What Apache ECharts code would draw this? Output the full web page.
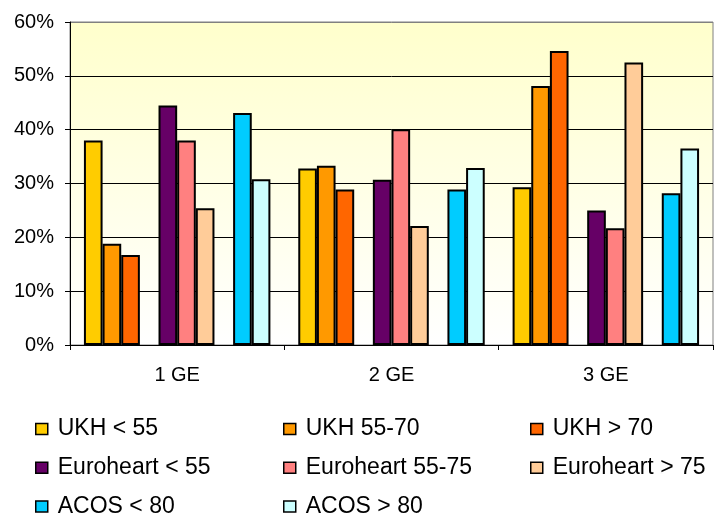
<!DOCTYPE html>
<html>
<head>
<meta charset="utf-8">
<script src="https://cdn.jsdelivr.net/npm/echarts@6/dist/echarts.min.js"></script>
<style>
  html, body { margin: 0; padding: 0; background: #fff; }
  #chart { width: 715px; height: 520px; }
</style>
</head>
<body>
<div id="chart"></div>
<script>
// Categories (number of GE) and share of patients per group, in percent
const categories = ['1 GE', '2 GE', '3 GE'];

const ukhUnder55   = [38.0, 32.8, 29.3];
const ukh55to70    = [18.8, 33.3, 48.1];
const ukhOver70    = [16.7, 28.9, 54.6];
const euroUnder55  = [44.5, 30.7, 25.0];
const euro55to75   = [38.0, 40.1, 21.7];
const euroOver75   = [25.4, 22.1, 52.5];
const acosUnder80  = [43.1, 28.9, 28.2];
const acosOver80   = [30.8, 32.9, 36.5];

const yTicks = [0, 10, 20, 30, 40, 50, 60];

const FONT = "'Liberation Sans', Arial, sans-serif";

const seriesDefs = [
  { name: 'UKH < 55',          data: ukhUnder55,  color: '#FFCC00' },
  { name: 'UKH 55-70',         data: ukh55to70,   color: '#FF9900' },
  { name: 'UKH > 70',          data: ukhOver70,   color: '#FF6600' },
  { name: '_gap1',             data: null },
  { name: 'Euroheart < 55',    data: euroUnder55, color: '#660066' },
  { name: 'Euroheart 55-75',   data: euro55to75,  color: '#FF8080' },
  { name: 'Euroheart > 75',    data: euroOver75,  color: '#FFCC99' },
  { name: '_gap2',             data: null },
  { name: 'ACOS < 80',         data: acosUnder80, color: '#00CCFF' },
  { name: 'ACOS > 80',         data: acosOver80,  color: '#CCFFFF' }
];

const series = seriesDefs.map(d => ({
  type: 'bar',
  name: d.name,
  data: d.data ? d.data : categories.map(() => '-'),
  barGap: '0%',
  barCategoryGap: '13%',
  itemStyle: d.color ? { color: d.color, borderColor: '#000', borderWidth: 2 } : undefined,
  silent: !d.color
}));

function legendColumn(left, names) {
  return {
    left: left,
    top: 417,
    height: 130,
    padding: 0,
    orient: 'vertical',
    icon: 'rect',
    itemWidth: 12,
    itemHeight: 11,
    itemGap: 14.7,
    data: names,
    itemStyle: { borderColor: '#000', borderWidth: 1.5 },
    textStyle: {
      fontFamily: FONT,
      fontSize: 23,
      color: '#000',
      lineHeight: 24,
      padding: [0, 0, 0, 5]
    }
  };
}

const chart = echarts.init(document.getElementById('chart'), null, { renderer: 'canvas' });
chart.setOption({
  animation: false,
  backgroundColor: '#fff',
  grid: {
    left: 70, right: 2, top: 22, bottom: 175,
    show: true,
    borderColor: '#808080',
    borderWidth: 1,
    backgroundColor: {
      type: 'linear', x: 0, y: 0, x2: 0, y2: 1,
      colorStops: [
        { offset: 0, color: '#FFFFCC' },
        { offset: 1, color: '#FFFFFF' }
      ]
    }
  },
  legend: [
    legendColumn(35,  ['UKH < 55', 'Euroheart < 55', 'ACOS < 80']),
    legendColumn(283, ['UKH 55-70', 'Euroheart 55-75', 'ACOS > 80']),
    legendColumn(530, ['UKH > 70', 'Euroheart > 75'])
  ],
  xAxis: {
    type: 'category',
    data: categories,
    boundaryGap: true,
    axisLine: { lineStyle: { color: '#000', width: 1 } },
    axisTick: { show: true, inside: false, length: 5, alignWithLabel: false, lineStyle: { color: '#000' } },
    axisLabel: { fontFamily: FONT, fontSize: 20, color: '#000', margin: 20 }
  },
  yAxis: {
    type: 'value',
    min: yTicks[0],
    max: yTicks[yTicks.length - 1],
    interval: 10,
    axisLine: { show: true, lineStyle: { color: '#000', width: 1 } },
    axisTick: { show: true, inside: false, length: 5, lineStyle: { color: '#000' } },
    axisLabel: { fontFamily: FONT, fontSize: 20, color: '#000', margin: 16, formatter: '{value}%' },
    splitLine: {
      show: true,
      lineStyle: { color: ['#000', '#000', '#000', '#000', '#000', '#000', '#808080'], width: 1 }
    }
  },
  series: series
});
</script>
</body>
</html>
